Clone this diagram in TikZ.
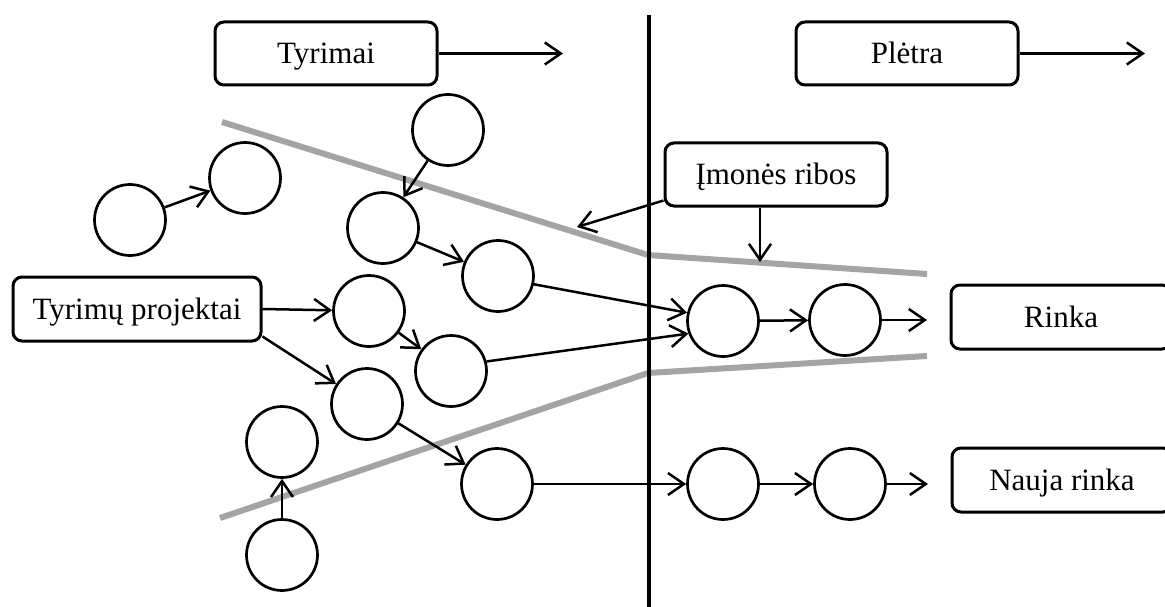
\documentclass[tikz,border=0pt]{standalone}
\usepackage{fontspec}
\setmainfont{Liberation Serif}
\usetikzlibrary{arrows.meta}
\definecolor{bordergray}{RGB}{166,163,163}
\begin{document}
\begin{tikzpicture}[x=1pt,y=-1pt,
  font=\fontsize{31}{37}\selectfont,
  proj/.style={circle,draw,line width=2.7pt,minimum size=71pt,inner sep=0pt,fill=white},
  labelbox/.style={draw,rounded corners=9pt,line width=3pt,minimum height=63pt,inner sep=0pt,
    text height=28pt,text depth=7pt,fill=white},
  flow/.style={line width=2.5pt,-{Straight Barb[length=16pt,width=22pt]}},
  edgeline/.style={bordergray,line width=6pt}]
\useasboundingbox (0,0) rectangle (1165,607);

% company boundaries
\draw[edgeline] (222,122) -- (648,255) -- (927,274);
\draw[edgeline] (220,518) -- (648,373) -- (927,356);

% research / development divide
\draw[line width=4pt] (649,15) -- (649,607);

% phase labels
\node[labelbox,minimum width=222pt] (tyr) at (326,53.5) {Tyrimai};
\node[labelbox,minimum width=222pt] (ple) at (907,53.5) {Plėtra};
\coordinate (tyrend) at (563,53.5);
\coordinate (pleend) at (1145,53.5);
\draw[flow] (tyr.east) -- (tyrend);
\draw[flow] (ple.east) -- (pleend);

\node[labelbox,minimum width=222pt] (imo) at (776,174.5) {Įmonės ribos};
\node[labelbox,minimum width=248pt,minimum height=64pt] (tp) at (137,309) {Tyrimų projektai};
\node[labelbox,minimum width=220pt,minimum height=64pt] (rinka) at (1061,317) {Rinka};
\node[labelbox,minimum width=220pt,minimum height=64pt] (nauja) at (1062,480) {Nauja rinka};

% projects
\node[proj] (c1) at (130,220) {};
\node[proj] (c2) at (245,178) {};
\node[proj] (c3) at (448,130) {};
\node[proj] (c4) at (383,228) {};
\node[proj] (c5) at (498,276) {};
\node[proj] (c6) at (369,311) {};
\node[proj] (c7) at (451,371) {};
\node[proj] (c8) at (367,404) {};
\node[proj] (c9) at (282,442) {};
\node[proj] (c10) at (282,555) {};
\node[proj] (c11) at (497,484) {};
\node[proj] (c12) at (723,484) {};
\node[proj] (c13) at (850,484) {};
\node[proj] (c14) at (723,321) {};
\node[proj] (c15) at (845,320) {};

\coordinate (bnd1) at (577,227);
\coordinate (bnd2) at (760,262);
\coordinate (toRinka) at (927,320);
\coordinate (toNauja) at (928,484);

\draw[flow] ([yshift=7pt]imo.south west) -- (bnd1);
\draw[flow] ([xshift=-16pt]imo.south) -- (bnd2);

\draw[flow] (tp.east) -- (c6);
\draw[flow] ([yshift=6pt]tp.south east) -- (c8);

\draw[flow] (c1) -- (c2);
\draw[flow] (c3) -- (c4);
\draw[flow] (c4) -- (c5);
\draw[flow] (c6) -- (c7);
\draw[flow] (c8) -- (c11);
\draw[flow] (c10) -- (c9);
\draw[flow] (c5.-13) -- (c14.167);
\draw[flow] (c7.15) -- (c14.200);
\draw[flow] (c14) -- (c15);
\draw[flow] (c15) -- (toRinka);
\draw[flow] (c11) -- (c12);
\draw[flow] (c12) -- (c13);
\draw[flow] (c13) -- (toNauja);
\end{tikzpicture}
\end{document}
